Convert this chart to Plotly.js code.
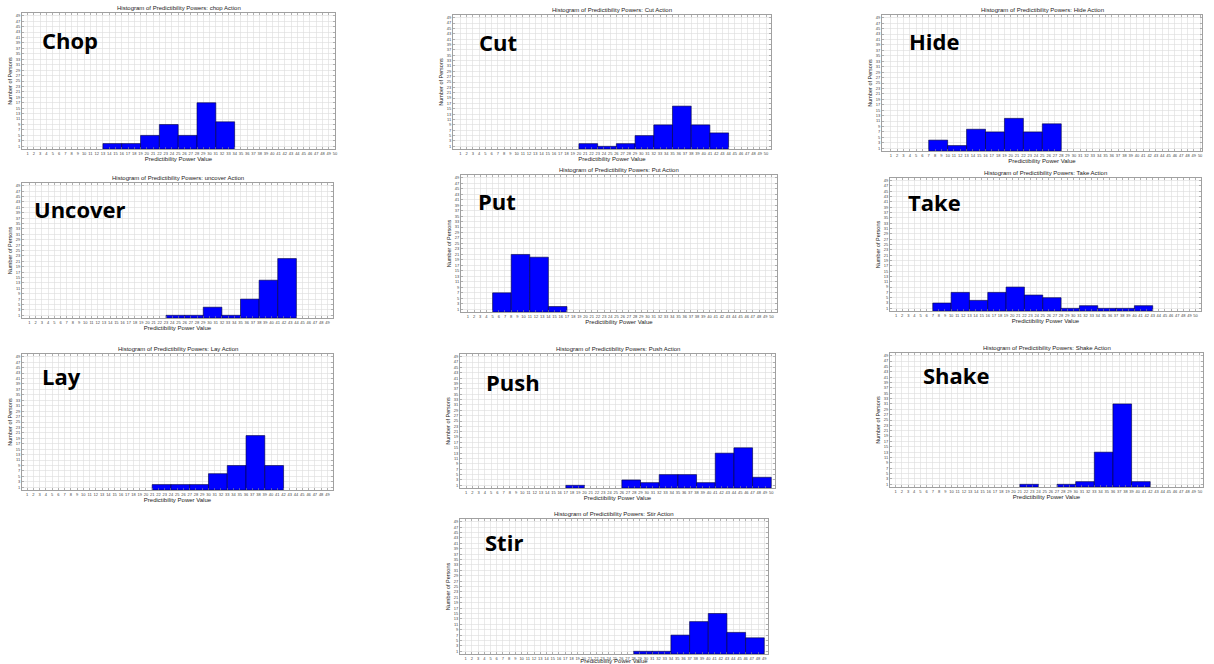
<!DOCTYPE html>
<html>
<head>
<meta charset="utf-8">
<script src="https://cdn.plot.ly/plotly-3.0.1.min.js"></script>
<style>html,body{margin:0;padding:0;background:#fff;}#chart{width:1214px;height:664px;}</style>
</head>
<body>
<div id="chart"></div>
<script>
// ---- data ----
const actionNames = ['chop', 'Cut', 'Hide', 'uncover', 'Put', 'Take', 'Lay', 'Push', 'Shake', 'Stir'];
const bigLabels = ['Chop', 'Cut', 'Hide', 'Uncover', 'Put', 'Take', 'Lay', 'Push', 'Shake', 'Stir'];
const binStarts = [13, 20, 7, 23, 5, 7, 21, 17, 21, 28];
const binWidth = 3;
const chopCounts = [2, 2, 5, 9, 5, 17, 10];
const cutCounts = [2, 1, 2, 5, 9, 16, 9, 6];
const hideCounts = [4, 2, 8, 7, 12, 7, 10];
const uncoverCounts = [1, 1, 4, 1, 7, 14, 22];
const putCounts = [7, 21, 20, 2];
const takeCounts = [3, 7, 4, 7, 9, 6, 5, 1, 2, 1, 1, 2];
const layCounts = [2, 2, 2, 6, 9, 20, 9];
const pushCounts = [1, 0, 0, 3, 2, 5, 5, 2, 13, 15, 4];
const shakeCounts = [1, 0, 1, 2, 13, 31, 2];
const stirCounts = [1, 1, 7, 12, 15, 8, 6];
const xTickLast = [50, 50, 50, 50, 50, 50, 50, 51, 50, 50];
const yTickVals = [1,3,5,7,9,11,13,15,17,19,21,23,25,27,29,31,33,35,37,39,41,43,45,47,49];
const titlePrefix = 'Histogram of Predictibility Powers: ';
const xTitle = 'Predictibility Power Value';
const yTitle = 'Number of Persons';

const allCounts = [chopCounts, cutCounts, hideCounts, uncoverCounts, putCounts,
                   takeCounts, layCounts, pushCounts, shakeCounts, stirCounts];

// ---- layout geometry (pixels: left, right, top, bottom) ----
const W = 1214, H = 664;
const boxes = [
  [22, 335, 13, 149],
  [453, 771, 15, 149],
  [882, 1202, 15, 151],
  [22, 333, 183, 318],
  [461, 777, 175, 312],
  [890, 1201, 178, 311],
  [22, 333, 354, 490],
  [460, 775, 354, 488],
  [890, 1203, 353, 487],
  [460, 768, 519, 654]
];
const xRanges = [[0.1, 50], [-0.2, 50.8], [-0.4, 50.3], [-0.2, 49.9], [-0.1, 50.9],
                 [0, 50.9], [0.2, 49.9], [0, 50.6], [0.1, 50.5], [0.1, 49.6]];
const labelPos = [[40, 40], [477, 42], [907, 41], [32, 209], [476, 201],
                  [906, 202], [40, 376], [484, 382], [921, 375], [483, 542]];

const traces = [];
const layout = {
  width: W, height: H,
  margin: {l: 0, r: 0, t: 0, b: 0},
  paper_bgcolor: '#fff', plot_bgcolor: '#fff',
  showlegend: false,
  font: {family: 'Liberation Sans, Arial, sans-serif', color: '#222'},
  annotations: []
};

allCounts.forEach((counts, i) => {
  const n = i + 1;
  const xs = [], ys = [];
  counts.forEach((c, k) => {
    if (c > 0) { xs.push(binStarts[i] + binWidth * k + binWidth / 2); ys.push(c); }
  });
  traces.push({
    type: 'bar', x: xs, y: ys, width: binWidth,
    xaxis: 'x' + (n === 1 ? '' : n), yaxis: 'y' + (n === 1 ? '' : n),
    marker: {color: '#0000ff', line: {color: '#000040', width: 0.6}},
    hoverinfo: 'x+y'
  });
  const b = boxes[i];
  const xt = [];
  for (let v = 1; v <= xTickLast[i]; v++) xt.push(v);
  const axStyle = {
    showgrid: true, gridcolor: '#dcdcdc', gridwidth: 0.6,
    showline: true, linecolor: '#a0a0a0', linewidth: 1, mirror: 'allticks',
    ticks: 'inside', ticklen: 2, tickcolor: '#888', tickwidth: 0.6,
    zeroline: false, fixedrange: true,
    tickfont: {size: 4, color: '#444'}
  };
  layout['xaxis' + (n === 1 ? '' : n)] = Object.assign({}, axStyle, {
    domain: [b[0] / W, b[1] / W],
    anchor: 'y' + (n === 1 ? '' : n),
    range: xRanges[i], tickmode: 'array', tickvals: xt, ticktext: xt.map(String),
    tickangle: 0,
    title: {text: xTitle, font: {size: 6, color: '#222'}, standoff: 1}
  });
  layout['yaxis' + (n === 1 ? '' : n)] = Object.assign({}, axStyle, {
    domain: [1 - b[3] / H, 1 - b[2] / H],
    anchor: 'x' + (n === 1 ? '' : n),
    range: [0, 50], tickmode: 'array', tickvals: yTickVals, ticktext: yTickVals.map(String),
    title: {text: yTitle, font: {size: 5.5, color: '#222'}, standoff: 2}
  });
  layout.annotations.push({
    xref: 'paper', yref: 'paper',
    x: (b[0] + b[1]) / 2 / W, y: 1 - (b[2] - 5) / H,
    xanchor: 'center', yanchor: 'middle', showarrow: false,
    text: titlePrefix + actionNames[i] + ' Action',
    font: {size: 6, color: '#222', family: 'Liberation Sans, Arial, sans-serif'}
  });
  layout.annotations.push({
    xref: 'paper', yref: 'paper',
    x: labelPos[i][0] / W, y: 1 - labelPos[i][1] / H,
    xanchor: 'left', yanchor: 'middle', showarrow: false,
    text: '<b>' + bigLabels[i] + '</b>',
    font: {size: 22, color: '#000', family: 'Open Sans, Noto Sans, sans-serif'}
  });
});

Plotly.newPlot('chart', traces, layout, {displayModeBar: false, staticPlot: true});
</script>
</body>
</html>
